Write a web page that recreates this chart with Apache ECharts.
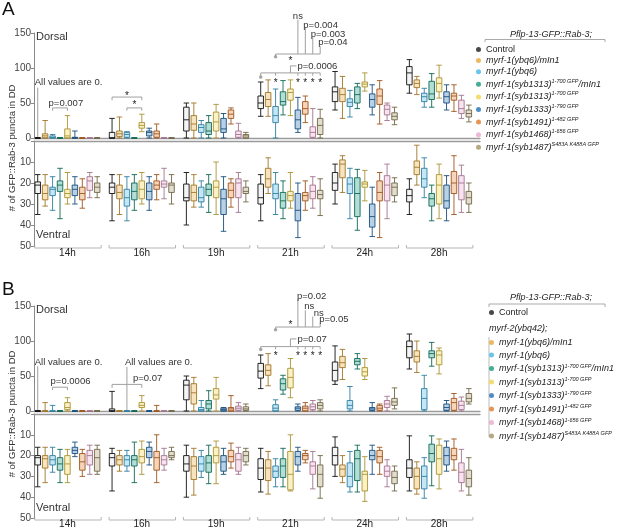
<!DOCTYPE html>
<html><head><meta charset="utf-8">
<script src="https://cdn.jsdelivr.net/npm/echarts@6/dist/echarts.min.js"></script>
<style>html,body{margin:0;padding:0;background:#fff}#c{width:617px;height:529px}</style>
</head><body><div id="c"></div>
<script>
// ---------- data ----------
const groups = ['14h','16h','19h','21h','24h','28h'];
const genotypes = ['Control','myrf-1(ybq6)/mIn1','myrf-1(ybq6)','myrf-1(syb1313)1-700 GFP/mIn1','myrf-1(syb1313)1-700 GFP','myrf-1(syb1333)1-790 GFP','myrf-1(syb1491)1-482 GFP','myrf-1(syb1468)1-656 GFP','myrf-1(syb1487)S483A K488A GFP'];
const legendLabels = ['{n|Control}','{i|myrf-1(ybq6)/mIn1}','{i|myrf-1(ybq6)}','{i|myrf-1(syb1313)}{s|1-700 GFP}{i|/mIn1}','{i|myrf-1(syb1313)}{s|1-700 GFP}','{i|myrf-1(syb1333)}{s|1-790 GFP}','{i|myrf-1(syb1491)}{s|1-482 GFP}','{i|myrf-1(syb1468)}{s|1-656 GFP}','{i|myrf-1(syb1487)}{s|S483A K488A GFP}'];
// each box: [min, Q1, median, Q3, max]; 9 genotypes per time point
const aDorsal14h = [[0,0,0,0,0],[0,0,3,6,25],[0,0,1,3,5],[0,0,0,0,0],[0,0,3,13,32],[0,0,0,1,10],[0,0,0,0,0],[0,0,0,0,0],[0,0,0,0,0]];
const aDorsal16h = [[0,0,0,8,28],[0,2,6,10,30],[0,1,5,8,9],[0,0,0,0,0],[9,14,18,22,34],[0,3,8,10,14],[0,1,6,10,20],[0,0,0,0,0],[0,0,0,0,0]];
const aDorsal19h = [[0,10,26,44,50],[0,11,20,32,50],[0,8,15,19,25],[0,5,10,22,32],[0,10,23,37,48],[0,8,13,28,35],[20,28,34,40,43],[0,1,5,10,21],[0,0,3,5,8]];
const aDorsal21h = [[31,42,50,60,80],[31,45,55,65,83],[0,22,32,45,70],[33,47,52,66,82],[32,54,65,70,83],[8,13,26,40,58],[22,34,42,52,60],[0,1,8,16,42],[0,5,18,28,41]];
const aDorsal24h = [[40,52,66,73,95],[28,52,62,71,88],[30,45,51,56,68],[42,50,62,73,78],[67,73,77,80,93],[33,44,55,63,76],[20,48,60,70,82],[25,33,41,47,50],[19,26,31,36,44]];
const aDorsal28h = [[64,76,93,102,112],[62,72,78,83,88],[44,52,59,64,71],[44,55,63,81,92],[57,66,78,86,104],[40,50,59,66,76],[38,54,60,64,76],[28,35,42,54,61],[23,30,35,40,47]];
const aVentral14h = [[16,19.5,21,25,35],[16,21,25,28,31],[17,22,23,26,33],[13,19,21,24,37],[15,23,25,27,30],[17,21,23,26,30],[18,22,25,28,32],[15,17,19,23.5,27],[17,20,22,24.5,27]];
const aVentral16h = [[16,20,22,25,38],[16,21,24.5,27.5,35],[17,23,27,31,38],[16,20,24,28,33],[15,19,23,27.5,30],[17,20,24,28,33],[16,19,21,23,28],[13,19,20.5,22,27.5],[16,20,21,24.5,30]];
const aVentral19h = [[15,20.5,27,28.5,40],[16,21,24.5,28.5,31.5],[19,22,27,29,31.5],[16,20.5,23,26,34],[10,19,22,27,35],[17,23,27.5,35,43],[18,20,23.5,27,31.5],[15,18,20,27,34],[19,22,24,25,29]];
const aVentral21h = [[16,20.5,27,30,38],[8,13,18,22,25],[15,20.5,25,27.5,35],[19,24.5,28.5,32,37],[15,24,26,28.5,32],[20,25,33,38,46],[19,24.5,26,28.5,33],[17,21,24,27.5,32],[18,23.5,25.5,27.5,35.5]];
const aVentral24h = [[11,15,20,23.5,30],[7,9,11,17.5,24.5],[13,17.5,20.5,25,37],[13.5,17.5,25,36,42.5],[14,19.5,20.5,22,28.5],[22,30,36,41,45.5],[15,19,24.5,28.5,46],[11,16.5,21,28.5,37],[17.5,20,22,26,29]];
const aVentral28h = [[18,23,26,29,35],[2,9.5,12.5,16,21],[8,13,18,22,27],[21,25,27.5,31,38],[11,16,21,30,37],[16.5,21,28.5,32,38],[7,14.5,20,25,35],[11.5,16.5,20,28,34],[20,24,27,30,34]];
const bDorsal14h = [[0,0,0,0,0],[0,0,0,0,12],[0,0,0,0,8],[0,0,0,0,0],[0,2,5,12,19],[0,0,0,0,0],[0,0,0,0,0],[0,0,0,0,0],[0,0,0,0,0]];
const bDorsal16h = [[0,0,0,3,28],[0,0,0,0,0],[0,0,0,0,0],[0,0,0,0,0],[0,5,8,12,22],[0,0,0,0,0],[0,0,0,0,8],[0,0,0,0,0],[0,0,0,0,0]];
const bDorsal19h = [[0,16,37,44,50],[0,10,26,39,48],[0,0,2,5,15],[0,3,10,15,29],[0,17,23,32,48],[0,0,2,4,5],[0,0,3,5,22],[0,1,4,7,12],[0,1,3,6,10]];
const bDorsal21h = [[32,47,57,68,80],[36,51,58,66,82],[0,0,4,9,16],[24,30,39,46,51],[19,33,48,61,75],[0,1,4,6,10],[0,0,4,7,12],[0,2,6,10,15],[0,3,8,12,16]];
const bDorsal24h = [[38,43,58,70,93],[45,62,69,78,88],[0,3,8,15,35],[60,66,71,75,82],[45,50,56,62,75],[0,1,3,5,12],[0,1,4,8,10],[0,5,10,15,21],[3,8,13,18,33]];
const bDorsal28h = [[60,76,92,100,110],[55,70,78,86,100],[0,2,18,32,51],[64,76,82,86,98],[53,66,80,86,90],[0,1,5,10,15],[0,1,12,18,25],[0,2,8,14,20],[10,13,18,25,32]];
const bVentral14h = [[16,20,21,24.5,35],[16,20,21.5,26,33],[16,20,22,24.5,28],[17,21,24,27,33],[17,20,24,29,33],[13.5,16,17.5,19,20.5],[17,19,23,27,30],[15,17.5,20,24.5,29],[15,17,21,27.5,29]];
const bVentral16h = [[16.5,19,21,25,37],[17.5,20,22,24.5,27.5],[17.5,20,22,25,27.5],[13.5,20,22,25,33],[13,17,20.5,23.5,29],[13.5,16,18,21,24.5],[10,18,21,27,33],[16.5,20,22,24.5,27],[16,18,20,21,22]];
const bVentral19h = [[15,20,24,27.5,40],[16.5,20.5,25,31.5,39],[17.5,20.5,24,27.5,30.5],[15,20,23.5,28,33.5],[13,16,20,23.5,33.5],[16.5,20,23,27.5,29],[14,17.5,20.5,23,26],[16,19,22,27.5,29],[16.5,18,20,23,24.5]];
const bVentral21h = [[16.5,21.5,26,31.5,37.5],[18,22,26,32,38.5],[21.5,25,27.5,30.5,35],[16.5,21.5,25,30.5,35],[10,18,29,36.5,37],[16,18,20.5,24.5,27.5],[17.5,19,20,22,23.5],[18,23,25,29,36],[20,24.5,29,35,40.5]];
const bVentral24h = [[11,16,20,24.5,30],[20,24.5,26.5,30,33],[18,23.5,30,35,37.5],[15,17.5,21.5,32,37.5],[20.5,27.5,29,37,42],[15,17.5,20,22,29],[16,17.5,20.5,23.5,29],[22,25,27.5,30,35],[25,27.5,30.5,33.5,37]];
const bVentral28h = [[10.5,22,26,30.5,37],[23,26,30,36,38.5],[21,25,30,36,40.5],[10.5,14.5,19,23,34.5],[12,15,21.5,29,36],[13,16,20,24.5,27.5],[12,16.5,20,22,27],[17,23.5,28,33,37],[21,27,31,35,39]];
// annotations: category slot index (time*10 + genotype) and value on the dorsal axis
const annotA = [
  ['line',[[0,0],[0,72]]], ['text',0,79,'All values are 0.','left',-3],
  ['line',[[2,39],[2,43],[4,43],[4,39]]], ['text',2,49,'p=0.007','left',-4],
  ['line',[[10,54],[10,58.5],[14,58.5],[14,54]]], ['star',12,63],
  ['line',[[12,39],[12,43],[14,43],[14,39]]], ['star',13,49],
  ['dot',30,87], ['line',[[30,87],[30,93],[38,93]]],
  ['line',[[32,93],[32,89]]], ['line',[[35,93],[35,89]]], ['line',[[36,93],[36,89]]], ['line',[[37,93],[37,89]]], ['line',[[38,93],[38,89]]],
  ['star',32,81], ['star',35,81], ['star',36,81], ['star',37,81], ['star',38,81],
  ['line',[[34,93],[34,103],[34,103,6]]], ['text',34,103,'p=0.0006','left',7],
  ['dot',32,116], ['line',[[32,116],[32,120],[38,120]]], ['star',34,113],
  ['line',[[35,120],[35,169]]], ['text',35,174,'ns','center',0],
  ['line',[[36,120],[36,157]]], ['text',36,161,'p=0.004','left',-2],
  ['line',[[37,120],[37,144]]], ['text',37,148.5,'p=0.003','left',-2],
  ['line',[[38,120],[38,131]]], ['text',38,136,'p=0.04','left',-2]
];
const annotB = [
  ['line',[[0,0],[0,64]]], ['text',0,70,'All values are 0.','left',-3],
  ['line',[[2,30],[2,34],[4,34],[4,30]]], ['text',2,42,'p=0.0006','left',-2],
  ['line',[[12,0],[12,63]]], ['text',12,70,'All values are 0.','left',-2],
  ['line',[[10,33],[10,38],[14,38],[14,33]]], ['text',12,46,'p=0.07','left',6],
  ['dot',30,88], ['line',[[30,88],[30,92],[38,92]]],
  ['line',[[32,92],[32,88]]], ['line',[[35,92],[35,88]]], ['line',[[36,92],[36,88]]], ['line',[[37,92],[37,88]]], ['line',[[38,92],[38,88]]],
  ['star',32,81], ['star',35,81], ['star',36,81], ['star',37,81], ['star',38,81],
  ['line',[[34,92],[34,103],[34,103,6]]], ['text',34,103,'p=0.07','left',7],
  ['dot',32,116], ['line',[[32,116],[32,120],[38,120]]], ['star',34,125],
  ['line',[[35,120],[35,160]]], ['text',35,164,'p=0.02','left',-1],
  ['line',[[36,120],[36,144]]], ['text',36,149,'ns','left',-1],
  ['line',[[37,120],[37,135]]], ['text',37,140,'ns','left',1],
  ['line',[[38,120],[38,126]]], ['text',38,131,'p=0.05','left',-1]
];

// ---------- styling ----------
const FONT = '"Liberation Sans", Arial, sans-serif';
const colors = ['#1a1a1a','#E8A838','#45B5E6','#16977B','#F3D34A','#2470B3','#E27B2A','#E9A7CC','#A39466'];
const SLOTS = 10;
function mixHex(hex, to, t){
  const a = parseInt(hex.slice(1),16), b = parseInt(to.slice(1),16);
  const ch = s => { const x=(a>>s)&255, y=(b>>s)&255; return Math.round(x+(y-x)*t); };
  return 'rgb('+ch(16)+','+ch(8)+','+ch(0)+')';
}
const cats = [];
groups.forEach(g => { for (let k=0;k<SLOTS;k++) cats.push(g+'#'+k); });
function boxData(sets){
  const out = [];
  sets.forEach((grp, gi) => grp.forEach((b, k) => {
    out.push({ value: [gi*SLOTS+k].concat(b), itemStyle: {
      color: k===0 ? '#f4f4f4' : mixHex(colors[k], '#ffffff', 0.68),
      borderColor: k===0 ? '#111111' : mixHex(colors[k], '#000000', 0.3) } });
  }));
  return out;
}
const gridsPx = [ {top:33, height:105}, {top:141, height:105}, {top:306, height:105}, {top:414, height:106} ];
const LEFT = 34, WIDTH = 446;
const axisLineStyle = {color:'#9a9a9a', width:1.4};
function catAxis(gi, pos, extra){
  return Object.assign({type:'category', gridIndex:gi, data:cats, position:pos, boundaryGap:true,
    axisLine:{show:true, onZero:false, lineStyle:axisLineStyle}, axisTick:{show:false}, axisLabel:{show:false}, splitLine:{show:false}}, extra||{});
}
function labelAxis(gi, margin){
  return catAxis(gi,'bottom',{axisLine:{show:false}, axisLabel:{show:true, interval:(i)=>i%SLOTS===4,
    formatter:(v,i)=>groups[Math.floor(i/SLOTS)], fontSize:10, color:'#222', fontFamily:FONT, margin:margin}});
}
function valAxis(gi, dorsal){
  return {type:'value', gridIndex:gi, min:0, max: dorsal?150:50, interval: dorsal?50:10, inverse: !dorsal,
    axisLine:{show:true, lineStyle:{color:'#8a8a8a', width:1}}, axisTick:{show:true, length:3, lineStyle:{color:'#8a8a8a'}},
    axisLabel:{fontSize:10, color:'#444', margin:3, fontFamily:FONT, formatter: v => (!dorsal && v===0) ? '' : String(v)},
    splitLine:{show:false}};
}
function boxSeries(xi, yi, sets){
  return {type:'boxplot', xAxisIndex:xi, yAxisIndex:yi, encode:{x:0, y:[1,2,3,4,5]}, boxWidth:[5.5,5.5],
    itemStyle:{borderWidth:0.9}, emphasis:{disabled:true}, data: boxData(sets)};
}
const legendSeries = genotypes.map((n,k) => ({type:'scatter', name:n, xAxisIndex:0, yAxisIndex:0, data:[], itemStyle:{color: colors[k]}}));
const richLeg = (lh) => ({ n:{fontSize:9, color:'#222', lineHeight:lh, fontFamily:FONT},
  i:{fontSize:9, fontStyle:'italic', color:'#222', lineHeight:lh, fontFamily:FONT},
  s:{fontSize:5.5, fontStyle:'italic', color:'#222', lineHeight:lh, verticalAlign:'top', fontFamily:FONT} });
function legend(names, left, top, lh, gap){
  return {data:names, orient:'vertical', left:left, top:top, icon:'circle', itemWidth:5, itemHeight:5, itemGap:gap,
    selectedMode:false, padding:0, formatter: n => legendLabels[genotypes.indexOf(n)],
    textStyle:{fontSize:9, color:'#222', fontFamily:FONT, rich: richLeg(lh)}};
}

const option = {
  animation:false,
  textStyle:{fontFamily:FONT},
  grid: gridsPx.map(g => ({left:LEFT, width:WIDTH, top:g.top, height:g.height, containLabel:false})),
  xAxis: [catAxis(0,'bottom'), catAxis(1,'top'), labelAxis(1,2), catAxis(2,'bottom'), catAxis(3,'top'), labelAxis(3,1)],
  yAxis: [valAxis(0,true), valAxis(1,false), valAxis(2,true), valAxis(3,false)],
  legend: [
    legend(genotypes, 476, 45, 12, 2.1),
    legend([genotypes[0]], 489, 308, 11.5, 0),
    legend(genotypes.slice(1), 489, 338, 11, 3.5)
  ],
  series: [
    boxSeries(0,0,[aDorsal14h,aDorsal16h,aDorsal19h,aDorsal21h,aDorsal24h,aDorsal28h]),
    boxSeries(1,1,[aVentral14h,aVentral16h,aVentral19h,aVentral21h,aVentral24h,aVentral28h]),
    boxSeries(3,2,[bDorsal14h,bDorsal16h,bDorsal19h,bDorsal21h,bDorsal24h,bDorsal28h]),
    boxSeries(4,3,[bVentral14h,bVentral16h,bVentral19h,bVentral21h,bVentral24h,bVentral28h])
  ].concat(legendSeries)
};
const chart = echarts.init(document.getElementById('c'), null, {renderer:'canvas'});
chart.setOption(option);

// ---------- annotations positioned through the series coordinate systems ----------
const GREY = '#a0a0a0';
function px(si, c, v, dx){ const p = chart.convertToPixel({seriesIndex:si}, [c, v]); return [p[0]+(dx||0), p[1]]; }
function txt(x, y, s, align, size, extra){
  return Object.assign({type:'text', x:x, y:y, silent:true, style:{text:s, fontSize:size||9.5, fontFamily:FONT, fill:'#333',
    align:align||'left', verticalAlign:'middle', textAlign:align||'left', textVerticalAlign:'middle'}}, extra||{});
}
const gfx = [];
function addAnnot(list, si){
  list.forEach(a => {
    if (a[0]==='line') gfx.push({type:'polyline', silent:true, shape:{points:a[1].map(p => px(si,p[0],p[1],p[2]))}, style:{stroke:GREY, lineWidth:1, fill:null}});
    else if (a[0]==='text') { const p = px(si,a[1],a[2],a[5]); gfx.push(txt(p[0],p[1],a[3],a[4])); }
    else if (a[0]==='dot') { const p = px(si,a[1],a[2]); gfx.push({type:'circle', silent:true, shape:{cx:p[0], cy:p[1], r:1.8}, style:{fill:'#a8a8a8'}}); }
    else if (a[0]==='star') { const p = px(si,a[1],a[2]); gfx.push(txt(p[0],p[1]+2,'*','center',10,{style:{text:'*', fontSize:10, fontFamily:FONT, fill:'#222', align:'center', verticalAlign:'middle', textAlign:'center', textVerticalAlign:'middle'}})); }
  });
}
addAnnot(annotA, 0);
addAnnot(annotB, 2);
// time-point brackets under the ventral panels
[1,3].forEach(si => {
  groups.forEach((g, gi) => {
    const l = px(si, gi*SLOTS, 50, -3), r = px(si, gi*SLOTS+8, 50, 4);
    const y = l[1] + 2;
    gfx.push({type:'polyline', silent:true, shape:{points:[[l[0],y-3],[l[0],y],[r[0],y],[r[0],y-3]]}, style:{stroke:'#b5b5b5', lineWidth:1, fill:null}});
  });
});
// panel texts
gfx.push(txt(2, 10, 'A', 'left', 19, {style:{text:'A', fontSize:19, fontFamily:FONT, fill:'#111', align:'left', verticalAlign:'middle'}}));
gfx.push(txt(2, 290, 'B', 'left', 19, {style:{text:'B', fontSize:19, fontFamily:FONT, fill:'#111', align:'left', verticalAlign:'middle'}}));
[[37,'Dorsal'],[235,'Ventral'],[310,'Dorsal'],[508,'Ventral']].forEach(t => gfx.push(txt(36, t[0], t[1], 'left', 11)));
[148, 414].forEach(y => gfx.push({type:'text', x:12, y:y, rotation:Math.PI/2, silent:true,
  style:{text:'# of GFP::Rab-3 puncta in DD', fontSize:9.5, fontFamily:FONT, fill:'#333', align:'center', verticalAlign:'middle', textAlign:'center', textVerticalAlign:'middle'}}));
// legend headers
const ital = (x,y,s,al) => ({type:'text', x:x, y:y, silent:true, style:{text:s, fontSize:9, fontStyle:'italic', fontFamily:FONT, fill:'#222', align:al, verticalAlign:'middle', textAlign:al, textVerticalAlign:'middle'}});
gfx.push(ital(551, 34, 'Pflp-13-GFP::Rab-3;', 'center'));
gfx.push({type:'polyline', silent:true, shape:{points:[[485,42],[485,39.5],[605,39.5],[605,42]]}, style:{stroke:'#aaa', lineWidth:1, fill:null}});
gfx.push(ital(551, 297, 'Pflp-13-GFP::Rab-3;', 'center'));
gfx.push({type:'polyline', silent:true, shape:{points:[[489,307],[489,304],[605,304],[605,307]]}, style:{stroke:'#aaa', lineWidth:1, fill:null}});
gfx.push(ital(489, 328, 'myrf-2(ybq42);', 'left'));
gfx.push({type:'polyline', silent:true, shape:{points:[[489,337],[489,437]]}, style:{stroke:'#bbb', lineWidth:1, fill:null}});
chart.setOption({graphic: gfx});
</script></body></html>
